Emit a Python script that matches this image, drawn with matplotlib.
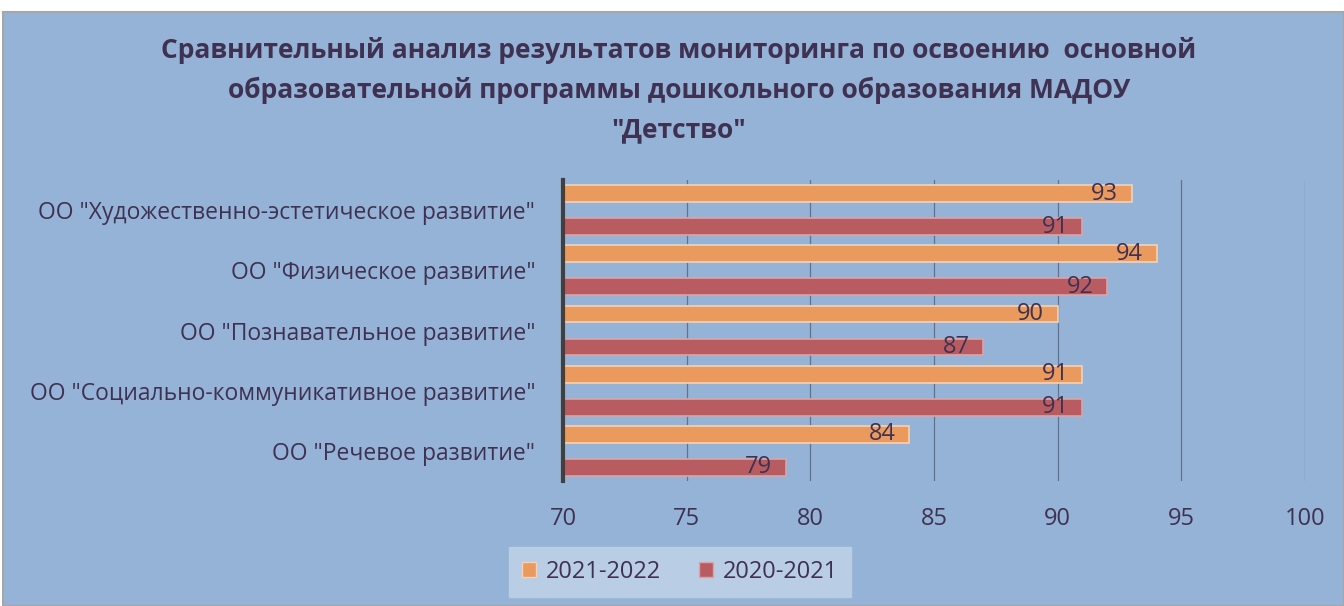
import matplotlib
matplotlib.use("Agg")
import matplotlib.pyplot as plt
import numpy as np
from matplotlib.patches import Patch

categories = ['ОО "Речевое развитие"',
              'ОО "Социально-коммуникативное развитие"',
              'ОО "Познавательное развитие"',
              'ОО "Физическое развитие"',
              'ОО "Художественно-эстетическое развитие"']
series_names = ["2021-2022", "2020-2021"]
values_2122 = [84, 91, 90, 94, 93]
values_2021 = [79, 91, 87, 92, 91]
xticks = [70, 75, 80, 85, 90, 95, 100]

BG = "#95B3D7"
TXT = "#3F3151"
ORANGE = "#E99A5C"
RED = "#B95C61"

plt.rcParams['font.family'] = ['Open Sans', 'DejaVu Sans']

fig = plt.figure(figsize=(13.44, 6.06), dpi=100)
fig.patch.set_facecolor("white")
bg = plt.Rectangle((3/1344, 0), 1 - 3/1344, 1 - 12/606, transform=fig.transFigure,
                   facecolor=BG, edgecolor="#A6A6A6", linewidth=1.5, zorder=-10)
fig.patches.append(bg)

ax = fig.add_axes([563/1344, 1 - 481/606, (1305-563)/1344, (481-180)/606])
ax.set_facecolor(BG)
ax.patch.set_alpha(0)

y = np.arange(len(categories))
h = 0.28
off = 0.275
ax.barh(y + off, [v - 70 for v in values_2122], left=70, height=h, color=ORANGE,
        edgecolor="#F5D2B5", linewidth=1.2, zorder=3, label=series_names[0])
ax.barh(y - off, [v - 70 for v in values_2021], left=70, height=h, color=RED,
        edgecolor="#D9A5A8", linewidth=1.2, zorder=3, label=series_names[1])

for yy, v in zip(y + off, values_2122):
    ax.text(v - 0.55, yy, str(v), ha="right", va="center", fontsize=17, color=TXT, zorder=4)
for yy, v in zip(y - off, values_2021):
    ax.text(v - 0.55, yy, str(v), ha="right", va="center", fontsize=17, color=TXT, zorder=4)

ax.set_xlim(70, 100)
ax.set_ylim(-0.5, 4.5)
ax.set_xticks(xticks)
ax.set_xticklabels([str(t) for t in xticks], fontsize=17, color=TXT)
ax.set_yticks(y)
ax.set_yticklabels(categories, fontsize=16.5, color=TXT)
ax.tick_params(axis="x", length=0, pad=19)
ax.tick_params(axis="y", length=0, pad=20)
ax.grid(axis="x", color="#62728A", linewidth=0.9, zorder=1)
for s in ["top", "right", "bottom"]:
    ax.spines[s].set_visible(False)
ax.spines["left"].set_color("#404040")
ax.spines["left"].set_linewidth(3)
ax.spines["left"].set_zorder(5)

fig.text(0.505, 1 - 50/606, "Сравнительный анализ результатов мониторинга по освоению  основной",
         ha="center", va="center", fontsize=19, fontweight="bold", color=TXT)
fig.text(0.505, 1 - 90/606, "образовательной программы дошкольного образования МАДОУ",
         ha="center", va="center", fontsize=19, fontweight="bold", color=TXT)
fig.text(0.505, 1 - 130/606, "\"Детство\"",
         ha="center", va="center", fontsize=19, fontweight="bold", color=TXT)

handles = [Patch(facecolor=ORANGE, edgecolor="#F5D2B5", label=series_names[0]),
           Patch(facecolor=RED, edgecolor="#D9A5A8", label=series_names[1])]
leg = fig.legend(handles=handles, loc="center", bbox_to_anchor=(680/1344, 1 - 572/606),
                 ncol=2, frameon=True, fontsize=17, handlelength=0.6, handleheight=0.6,
                 columnspacing=1.6, handletextpad=0.4, borderpad=0.55, fancybox=False)
leg.get_frame().set_facecolor("#B9CDE5")
leg.get_frame().set_edgecolor("#B9CDE5")
leg.get_frame().set_alpha(1)
for t in leg.get_texts():
    t.set_color(TXT)

fig.savefig("out.png", dpi=100, facecolor=fig.get_facecolor())
